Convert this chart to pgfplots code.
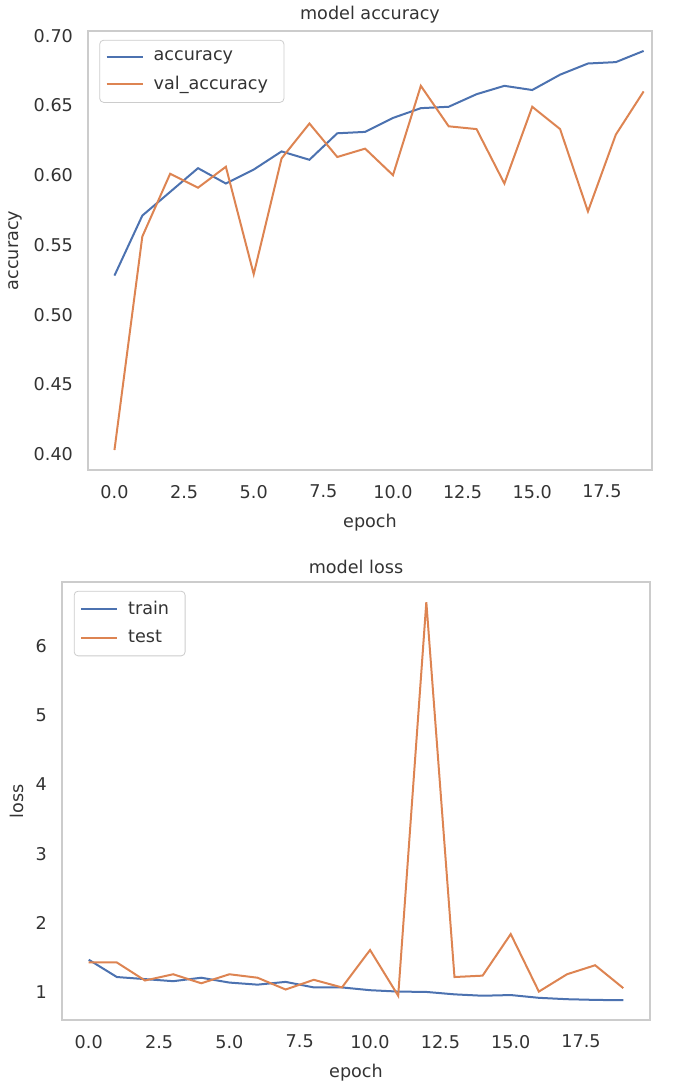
\documentclass[border=0pt]{standalone}
\usepackage{pgfplots}
\pgfplotsset{compat=1.18}
\usepackage{fontspec}
\setmainfont{DejaVu Sans}
\definecolor{sbblue}{HTML}{4C72B0}
\definecolor{sborange}{HTML}{DD8452}
\definecolor{frame}{HTML}{CCCCCC}
\definecolor{txt}{HTML}{333333}
\pgfplotsset{
  myax/.style={
    scale only axis,
    anchor=south west,
    axis line style={frame, line width=0.8pt},
    major tick length=0pt,
    tick style={draw=none},
    font=\fontsize{8.8}{10.5}\selectfont,
    /pgf/number format/assume math mode=true,
    ticklabel style={text=txt},
    label style={text=txt},
    title style={text=txt, yshift=-5.5pt},
    xticklabel style={yshift=-4pt},
    yticklabel style={xshift=-4pt},
    ylabel style={yshift=-1pt},
    xlabel style={yshift=-1pt},
    xtick={0,2.5,...,17.5},
    xticklabel style={/pgf/number format/.cd, fixed, fixed zerofill, precision=1},
    legend cell align=left,
    legend style={at={(0.02,0.98)}, anchor=north west, draw=frame, rounded corners=2pt, text=txt, row sep=2.5pt, inner sep=3pt, nodes={inner xsep=5pt}},
    legend image code/.code={\draw[#1] (0pt,0pt) -- (18pt,0pt);},
    every axis plot/.append style={line width=1pt},
  }
}
\begin{document}
\begin{tikzpicture}
\path[use as bounding box] (0,0) rectangle (342.5pt,544.5pt);
\begin{axis}[myax,
  at={(44pt,309.5pt)}, width=282pt, height=219.5pt,
  xmin=-0.95, xmax=19.3, ymin=0.3887, ymax=0.7033,
  ytick={0.40,0.45,...,0.701},
  yticklabel style={/pgf/number format/.cd, fixed, fixed zerofill, precision=2},
  title={model accuracy}, xlabel={epoch}, ylabel={accuracy},
]
\addplot[sbblue] coordinates {
(0,0.528) (1,0.571) (2,0.588) (3,0.605) (4,0.594) (5,0.604) (6,0.617) (7,0.611) (8,0.630) (9,0.631)
(10,0.641) (11,0.648) (12,0.649) (13,0.658) (14,0.664) (15,0.661) (16,0.672) (17,0.680) (18,0.681) (19,0.689)};
\addlegendentry{accuracy}
\addplot[sborange] coordinates {
(0,0.403) (1,0.556) (2,0.601) (3,0.591) (4,0.606) (5,0.529) (6,0.612) (7,0.637) (8,0.613) (9,0.619)
(10,0.600) (11,0.664) (12,0.635) (13,0.633) (14,0.594) (15,0.649) (16,0.633) (17,0.574) (18,0.629) (19,0.660)};
\addlegendentry{val\_accuracy}
\end{axis}
\begin{axis}[myax,
  at={(31pt,34.5pt)}, width=294pt, height=219pt,
  xmin=-0.95, xmax=19.95, ymin=0.6, ymax=6.92,
  ytick={1,2,...,6},
  title={model loss}, xlabel={epoch}, ylabel={loss},
]
\addplot[sbblue] coordinates {
(0,1.47) (1,1.22) (2,1.19) (3,1.16) (4,1.21) (5,1.14) (6,1.11) (7,1.15) (8,1.07) (9,1.07)
(10,1.03) (11,1.01) (12,1.005) (13,0.97) (14,0.95) (15,0.96) (16,0.92) (17,0.90) (18,0.89) (19,0.885)};
\addlegendentry{train}
\addplot[sborange] coordinates {
(0,1.43) (1,1.43) (2,1.17) (3,1.26) (4,1.13) (5,1.26) (6,1.21) (7,1.04) (8,1.18) (9,1.07)
(10,1.61) (11,0.95) (12,6.63) (13,1.22) (14,1.24) (15,1.84) (16,1.01) (17,1.26) (18,1.39) (19,1.06)};
\addlegendentry{test}
\end{axis}
\end{tikzpicture}
\end{document}
